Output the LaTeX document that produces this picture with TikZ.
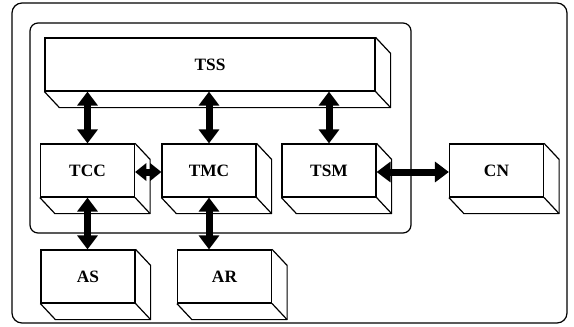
\documentclass[tikz,border=0pt]{standalone}
\usepackage{fontspec}
\setmainfont{Liberation Serif}
\usepackage{tikz}
\usetikzlibrary{calc,arrows.meta}

\begin{document}
\begin{tikzpicture}[x=0.75pt,y=-0.75pt,
  blk/.style={draw, line width=0.9pt, minimum width=70.5pt, minimum height=39.75pt,
    inner sep=0pt, font=\fontsize{13}{15}\selectfont\bfseries},
  dbl/.style={line width=5.25pt, {Triangle[width=15pt,length=10.5pt]}-{Triangle[width=15pt,length=10.5pt]}},
  short dbl/.style={line width=5.25pt, {Triangle[width=13pt,length=8.5pt]}-{Triangle[width=13pt,length=8.5pt]}}]
  \useasboundingbox (0,0) rectangle (574,326);
  \def\dx{15}
  \def\dy{16}

  % frames
  \draw[line width=0.9pt, rounded corners=7.5pt] (12,3) rectangle (567,323);
  \draw[line width=0.9pt, rounded corners=6pt] (30,23) rectangle (411,233);

  % blocks (front faces)
  \node[blk, minimum width=247.5pt] (TSS) at (210,64.5) {TSS};
  \node[blk] (TCC) at (87.5,170.5) {TCC};
  \node[blk] (TMC) at (209,170.5) {TMC};
  \node[blk] (TSM) at (329,170.5) {TSM};
  \node[blk] (CN)  at (496.5,170.5) {CN};
  \node[blk] (AS)  at (88,276.5) {AS};
  \node[blk] (AR)  at (224.5,276.5) {AR};

  % depth of the blocks
  \foreach \n in {TSS,TCC,TMC,TSM,CN,AS,AR}{
    \draw[line width=0.9pt, line join=round] (\n.north east) -- ($(\n.north east)+(\dx,\dy)$)
      -- ($(\n.south east)+(\dx,\dy)$) -- ($(\n.south west)+(\dx,\dy)$) -- (\n.south west);
    \draw[line width=0.9pt] (\n.south east) -- ($(\n.south east)+(\dx,\dy)$);
  }

  % links
  \draw[dbl] (TSS.south -| TCC) -- (TCC.north);
  \draw[dbl] (TSS.south -| TMC) -- (TMC.north);
  \draw[dbl] (TSS.south -| TSM) -- (TSM.north);
  \draw[short dbl] ($(TCC.east)+(0,1.5)$) -- ($(TMC.west)+(0,1.5)$);
  \draw[dbl] ($(TSM.east)+(0,1.5)$) -- ($(CN.west)+(0,1.5)$);
  \draw[dbl] (TCC.south) -- (TCC.south |- AS.north);
  \draw[dbl] (TMC.south) -- (TMC.south |- AR.north);
\end{tikzpicture}
\end{document}
